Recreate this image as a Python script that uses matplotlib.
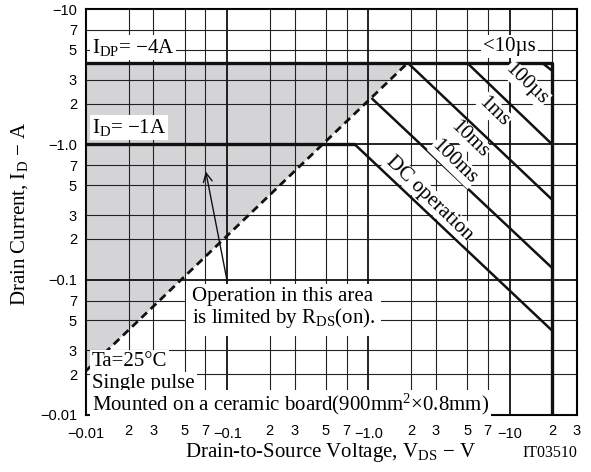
import matplotlib
matplotlib.use("Agg")
import matplotlib.pyplot as plt
from matplotlib.ticker import FixedLocator, FixedFormatter

plt.rcParams['font.family'] = ['Liberation Sans', 'DejaVu Sans']
plt.rcParams['mathtext.fontset'] = 'custom'
plt.rcParams['mathtext.rm'] = 'Liberation Serif'
plt.rcParams['mathtext.it'] = 'Liberation Serif:italic'
plt.rcParams['mathtext.default'] = 'rm'

SERIF = ['Liberation Serif', 'DejaVu Serif']

# Safe operating area limits (magnitudes, V and A)
boundary_v = [0.01, 20, 20]          # <10us: Idp and Vdss limit
boundary_i = [4.0, 4.0, 0.01]
dc_v = [0.01, 0.8, 20]
dc_i = [1.0, 1.0, 0.042]
ms100_v = [1.05, 20]
ms100_i = [2.2, 0.122]
ms10_v = [1.9, 20]
ms10_i = [4.0, 0.39]
ms1_v = [5.0, 20]
ms1_i = [4.0, 1.0]
us100_v = [17.0, 20]
us100_i = [4.0, 3.5]
rds_v = [0.01, 1.9]                  # Rds(on) limit, dashed
rds_i = [0.0212, 4.0]

x_major = [0.01, 0.1, 1, 10]
x_major_lbl = ['\u22120.01', '\u22120.1', '\u22121.0', '\u221210']
x_minor = [0.02, 0.03, 0.05, 0.07, 0.2, 0.3, 0.5, 0.7, 2, 3, 5, 7, 20, 30]
x_minor_lbl = ['2', '3', '5', '7'] * 3 + ['2', '3']
y_major = [0.01, 0.1, 1, 10]
y_major_lbl = ['\u22120.01', '\u22120.1', '\u22121.0', '\u221210']
y_minor = [0.02, 0.03, 0.05, 0.07, 0.2, 0.3, 0.5, 0.7, 2, 3, 5, 7]
y_minor_lbl = ['2', '3', '5', '7'] * 3

fig = plt.figure(figsize=(5.91, 4.72), dpi=100)
ax = fig.add_axes([86 / 591, 1 - 415 / 472, 491 / 591, 406 / 472])
ax.set_xscale('log')
ax.set_yscale('log')
ax.set_xlim(0.01, 30)
ax.set_ylim(0.01, 10)

ax.xaxis.set_major_locator(FixedLocator(x_major))
ax.xaxis.set_major_formatter(FixedFormatter(x_major_lbl))
ax.xaxis.set_minor_locator(FixedLocator(x_minor))
ax.xaxis.set_minor_formatter(FixedFormatter(x_minor_lbl))
ax.yaxis.set_major_locator(FixedLocator(y_major))
ax.yaxis.set_major_formatter(FixedFormatter(y_major_lbl))
ax.yaxis.set_minor_locator(FixedLocator(y_minor))
ax.yaxis.set_minor_formatter(FixedFormatter(y_minor_lbl))
ax.tick_params(axis='both', which='both', length=0, labelsize=10.5)
ax.tick_params(axis='x', which='major', pad=8.5)
ax.tick_params(axis='x', which='minor', pad=6.5)
ax.tick_params(axis='y', which='both', pad=6.5)

ax.grid(which='major', color='#111111', lw=1.3)
ax.grid(which='minor', color='#222222', lw=0.8)
ax.set_axisbelow(False)
for s in ax.spines.values():
    s.set_linewidth(1.5)

# shaded area limited by Rds(on)
ax.fill(rds_v + [0.01], rds_i + [4.0], color='#d4d4d6', lw=0, zorder=1)

lk = dict(color='#111111', lw=1.8, zorder=3, solid_capstyle='butt')
ax.plot(boundary_v, boundary_i, **dict(lk, lw=2.4))
ax.plot(dc_v[:2], dc_i[:2], **dict(lk, lw=2.4))
ax.plot(dc_v[1:], dc_i[1:], **lk)
ax.plot(ms100_v, ms100_i, **lk)
ax.plot(ms10_v, ms10_i, **lk)
ax.plot(ms1_v, ms1_i, **lk)
ax.plot(us100_v, us100_i, **lk)
ax.plot(rds_v, rds_i, color='#111111', lw=2.0, ls=(0, (2.8, 1.8)), zorder=3)

box = dict(facecolor='white', edgecolor='none', pad=1.5)
tk = dict(family=SERIF, fontsize=15, zorder=4)
ax.text(0.011, 5.2, 'I$_{\\mathrm{DP}}$= \u22124A', ha='left', va='center', bbox=box, **tk)
ax.text(0.011, 1.34, 'I$_{\\mathrm{D}}$= \u22121A', ha='left', va='center', bbox=box, **tk)
ax.text(10, 5.3, '<10\u00b5s', ha='center', va='center', bbox=box, **tk)

rot = -44
for x, y, s in [(13.2, 2.77, '100\u00b5s'), (7.77, 1.75, '1ms'), (5.17, 1.09, '10ms'),
                (4.05, 0.736, '100ms'), (2.7, 0.40, 'DC operation')]:
    ax.text(x, y, s, rotation=rot, rotation_mode='anchor', ha='center', va='center',
            bbox=dict(facecolor='white', edgecolor='none', pad=0.5), **tk)

ax.text(0.056, 0.061, 'Operation in this area\nis limited by R$_{\\mathrm{DS}}$(on).',
        ha='left', va='center', linespacing=1.0,
        bbox=dict(facecolor='white', edgecolor='none', pad=4), **tk)
ax.annotate('', xy=(0.0705, 0.63), xytext=(0.1, 0.097),
            arrowprops=dict(arrowstyle='->', color='#111111', lw=1.0,
                            mutation_scale=16, shrinkA=0, shrinkB=0), zorder=4)

ax.text(0.011, 0.0248, 'Ta=25\u00b0C', ha='left', va='center', bbox=box, **tk)
ax.text(0.011, 0.0171, 'Single pulse', ha='left', va='center', bbox=box, **tk)
ax.text(0.011, 0.0120, 'Mounted on a ceramic board(900mm$^2$\u00d70.8mm)',
        ha='left', va='center', bbox=box, **tk)

fig.text(20 / 591, 1 - 214 / 472, 'Drain Current, I$_{\\mathrm{D}}$ \u2212 A', rotation=90,
         ha='center', va='center', family=SERIF, fontsize=15)
fig.text(330 / 591, 1 - 453 / 472, 'Drain-to-Source Voltage, V$_{\\mathrm{DS}}$ \u2212 V',
         ha='center', va='center', family=SERIF, fontsize=15)
fig.text(577 / 591, 1 - 453 / 472, 'IT03510', ha='right', va='center',
         family=SERIF, fontsize=11.5)

fig.savefig('out.png', dpi=100)
